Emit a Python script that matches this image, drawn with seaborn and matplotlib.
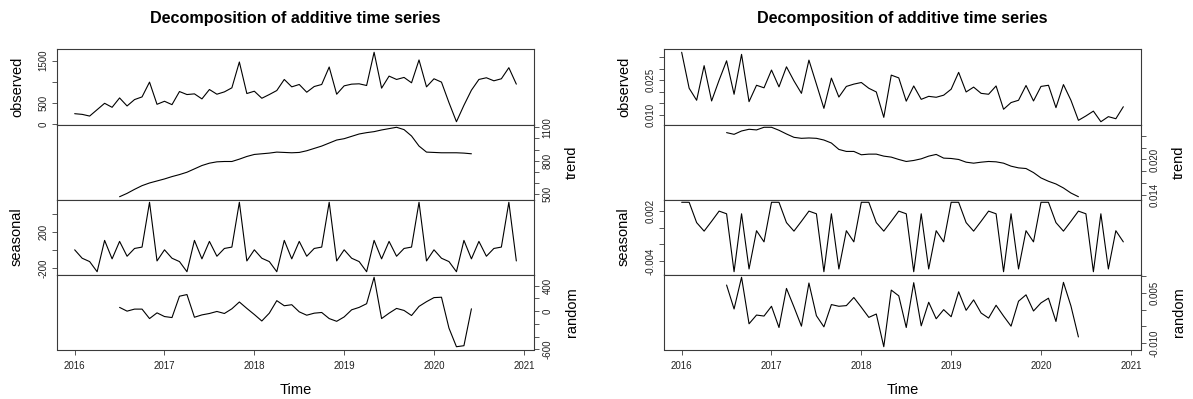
import numpy as np
import pandas as pd
import matplotlib
matplotlib.use("Agg")
import matplotlib.pyplot as plt
import seaborn as sns

# ---------------- data ----------------
years = 2016 + np.arange(60) / 12.0          # monthly, Jan 2016 .. Dec 2020
trend_years = years[6:54]                    # Jul 2016 .. Jun 2020

left_observed = [246, 230, 190, 341, 492, 397, 619, 429, 580, 643, 993, 468,
                 540, 460, 770, 699, 715, 596, 818, 707, 762, 858, 1469, 723,
                 778, 611, 699, 794, 1056, 881, 937, 754, 889, 937, 1350, 707,
                 905, 945, 953, 913, 1699, 850, 1135, 1056, 1104, 977, 1517, 881,
                 1072, 993, 508, 56, 445, 802, 1056, 1096, 1024, 1072, 1334, 945]
left_trend = [479, 509, 545, 578, 602, 620, 638, 659, 677, 698, 728, 758,
              779, 791, 794, 794, 815, 839, 857, 863, 869, 878, 875, 872,
              875, 890, 911, 932, 959, 986, 998, 1019, 1040, 1052, 1061, 1076,
              1088, 1100, 1079, 1022, 932, 878, 875, 872, 872, 872, 869, 863]
left_seasonal_year = [0, -93, -130, -242, 104, -100, 93, -71, 15, 30, 525, -123]
left_random = [59, 0, 32, 32, -117, -27, -85, -101, 235, 261, -96, -59,
               -37, -5, -37, 37, 144, 43, -53, -155, -32, 165, 85, 101,
               -11, -64, -32, -21, -117, -160, -91, 21, 59, 117, 533, -117,
               -32, 43, 11, -69, 75, 149, 213, 219, -267, -560, -544, 37]

right_observed = [0.0372, 0.0216, 0.0164, 0.0314, 0.0161, 0.0251, 0.0335, 0.0190,
                  0.0363, 0.0158, 0.0229, 0.0218, 0.0295, 0.0222, 0.0309, 0.0248,
                  0.0194, 0.0338, 0.0234, 0.0129, 0.0260, 0.0178, 0.0224, 0.0234,
                  0.0241, 0.0216, 0.0200, 0.0090, 0.0273, 0.0261, 0.0160, 0.0226,
                  0.0168, 0.0181, 0.0177, 0.0186, 0.0212, 0.0285, 0.0200, 0.0221,
                  0.0194, 0.0190, 0.0226, 0.0125, 0.0154, 0.0164, 0.0228, 0.0161,
                  0.0224, 0.0229, 0.0132, 0.0232, 0.0164, 0.0077, 0.0096, 0.0117,
                  0.0071, 0.0093, 0.0084, 0.0136]
right_trend = [0.02457, 0.02428, 0.02485, 0.02514, 0.02503, 0.02548, 0.02548, 0.02497,
               0.02434, 0.02377, 0.02360, 0.02366, 0.02360, 0.02331, 0.02280, 0.02171,
               0.02137, 0.02137, 0.02080, 0.02091, 0.02091, 0.02057, 0.02040, 0.02000,
               0.01966, 0.01983, 0.02011, 0.02057, 0.02086, 0.02023, 0.02017, 0.02000,
               0.01954, 0.01937, 0.01954, 0.01966, 0.01960, 0.01937, 0.01886, 0.01857,
               0.01846, 0.01777, 0.01686, 0.01629, 0.01583, 0.01515, 0.01429, 0.01366]
right_seasonal_year = [0.00306, 0.00306, 0.00062, -0.00040, 0.00078, 0.00200,
                       0.00168, -0.00527, 0.00168, -0.00494, -0.00035, -0.00169]
right_random = [0.00737, 0.00020, 0.00970, -0.00424, -0.00162, -0.00192, 0.00101, -0.00535,
                0.00636, 0.00081, -0.00495, 0.00798, -0.00182, -0.00515, 0.00152, 0.00101,
                0.00121, 0.00364, 0.00071, -0.00232, -0.00131, -0.01111, 0.00586, 0.00414,
                -0.00535, 0.00808, -0.00485, 0.00222, -0.00273, 0.00000, -0.00212, 0.00535,
                -0.00020, 0.00293, -0.00101, -0.00253, 0.00131, -0.00192, -0.00495, 0.00253,
                0.00444, -0.00040, 0.00202, 0.00343, -0.00354, 0.00818, 0.00111, -0.00818]

left_seasonal = np.tile(left_seasonal_year, 5)
right_seasonal = np.tile(right_seasonal_year, 5)

panel_names = ["observed", "trend", "seasonal", "random"]
x_ticks = [2016, 2017, 2018, 2019, 2020, 2021]

left_yticks = [
    ([0, 500, 1000, 1500], ["0", "500", "", "1500"]),
    ([500, 600, 700, 800, 900, 1000, 1100], ["500", "", "", "800", "", "", "1100"]),
    ([-200, 0, 200, 400], ["-200", "", "200", ""]),
    ([-600, -400, -200, 0, 200, 400], ["-600", "", "", "0", "", "400"]),
]
right_yticks = [
    ([0.010, 0.015, 0.020, 0.025, 0.030, 0.035], ["0.010", "", "", "0.025", "", ""]),
    ([0.014, 0.016, 0.018, 0.020, 0.022, 0.024], ["0.014", "", "", "0.020", "", ""]),
    ([-0.004, -0.002, 0.000, 0.002], ["-0.004", "", "", "0.002"]),
    ([-0.010, -0.005, 0.000, 0.005, 0.010], ["-0.010", "", "", "0.005", ""]),
]

# ---------------- style ----------------
sns.set_theme(style="white")
plt.rcParams["font.family"] = ["Liberation Sans", "DejaVu Sans"]

W, H = 1193, 399
fig = plt.figure(figsize=(W / 100, H / 100), dpi=100)
fig.patch.set_facecolor("white")

PANEL_TOP = 49.5
PANEL_H = 75.0
EDGE = "#3a3a3a"


def draw(x0, x1, series, yticks, title):
    width = (x1 - x0) / W
    xmin, xmax = years[0], years[-1]
    xpad = 0.04 * (xmax - xmin)
    axes = []
    for k, (name, (xs, ys), (tv, tl)) in enumerate(zip(panel_names, series, yticks)):
        top = PANEL_TOP + k * PANEL_H
        ax = fig.add_axes([x0 / W, 1 - (top + PANEL_H) / H, width, PANEL_H / H])
        df = pd.DataFrame({"time": xs, "value": ys})
        sns.lineplot(data=df, x="time", y="value", ax=ax, color="black",
                     linewidth=0.8, estimator=None, sort=False)
        ymin, ymax = float(np.min(ys)), float(np.max(ys))
        ypad = 0.04 * (ymax - ymin)
        ax.set_ylim(ymin - ypad, ymax + ypad)
        ax.set_xlim(xmin - xpad, xmax + xpad)
        ax.set_facecolor("white")
        for sp in ax.spines.values():
            sp.set_visible(True)
            sp.set_color(EDGE)
            sp.set_linewidth(0.8)
        right = (k % 2 == 1)
        ax.set_yticks(tv)
        ax.set_yticklabels(tl)
        ax.tick_params(axis="y", which="both", direction="out", length=3.6, width=0.6,
                       color=EDGE, labelsize=7, labelcolor="#222222", pad=2.5,
                       left=not right, labelleft=not right,
                       right=right, labelright=right)
        for lab in ax.get_yticklabels():
            lab.set_rotation(90)
            lab.set_va("center")
            lab.set_ha("left" if right else "right")
        ax.set_xlabel("")
        if right:
            ax.yaxis.set_label_position("right")
            ax.set_ylabel(name, fontsize=10.5, color="black", rotation=90,
                          va="center", ha="center")
            ax.yaxis.set_label_coords(1 + 38 / (x1 - x0), 0.5)
        else:
            ax.set_ylabel(name, fontsize=10.5, color="black", rotation=90,
                          va="center", ha="center")
            ax.yaxis.set_label_coords(-40 / (x1 - x0), 0.5)
        if k < 3:
            ax.set_xticks([])
        else:
            ax.set_xticks(x_ticks)
            ax.set_xticklabels([str(v) for v in x_ticks])
            ax.tick_params(axis="x", direction="out", length=3.6, width=0.6,
                           color=EDGE, labelsize=7, labelcolor="#222222", pad=5,
                           bottom=True, labelbottom=True)
            ax.set_xlabel("Time", fontsize=10.5, color="black", va="center")
            ax.xaxis.set_label_coords(0.5, -41 / PANEL_H)
        axes.append(ax)
    fig.text((x0 + x1) / 2 / W, 1 - 18 / H, title, ha="center", va="center",
             fontsize=11.6, fontweight="bold", color="black")
    return axes


draw(57, 534,
     [(years, left_observed), (trend_years, left_trend),
      (years, left_seasonal), (trend_years, left_random)],
     left_yticks, "Decomposition of additive time series")
draw(664, 1141,
     [(years, right_observed), (trend_years, right_trend),
      (years, right_seasonal), (trend_years, right_random)],
     right_yticks, "Decomposition of additive time series")

fig.savefig("out.png", dpi=100, facecolor="white")
